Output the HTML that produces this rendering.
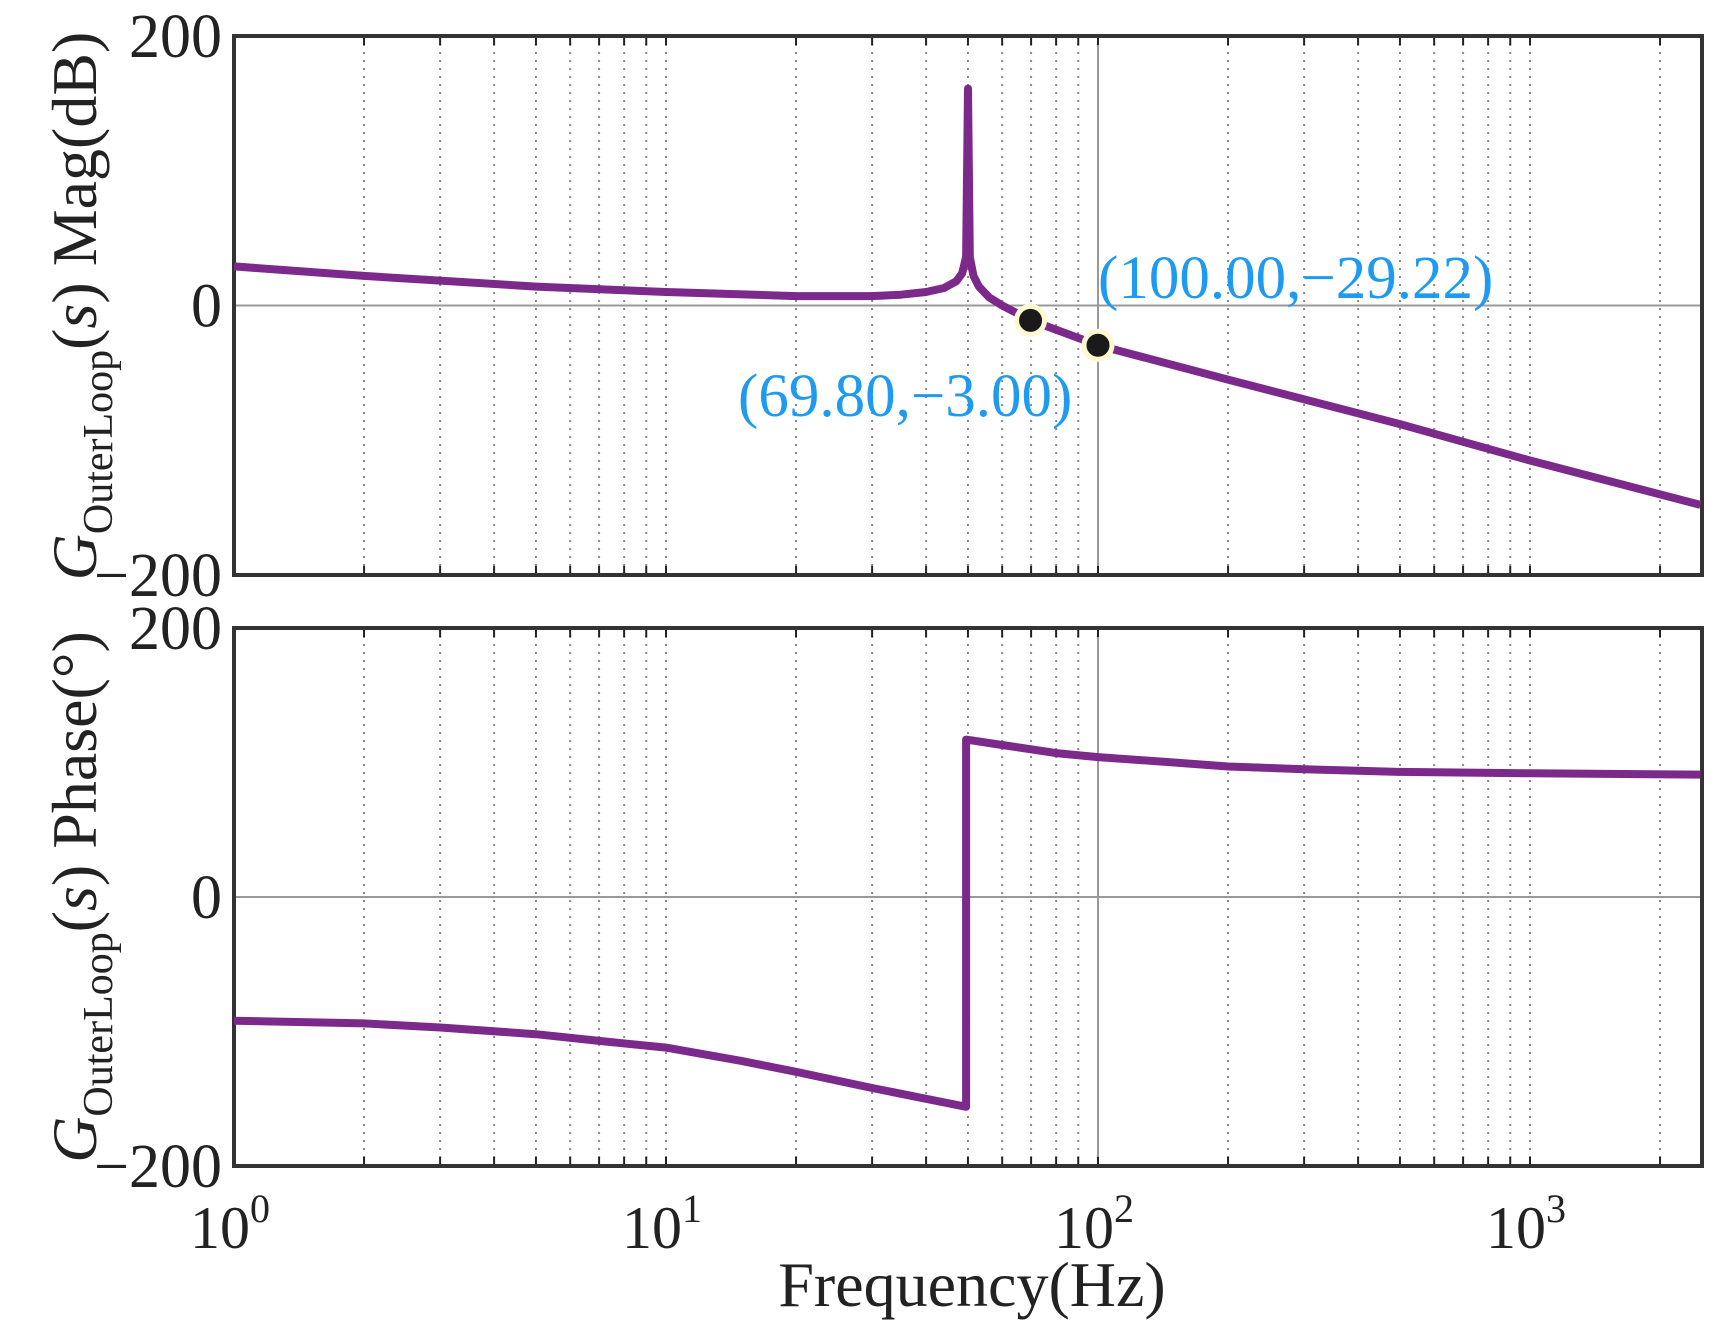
<!DOCTYPE html>
<html><head><meta charset="utf-8"><style>
html,body{margin:0;padding:0;background:#fff;}
svg{display:block;font-family:"Liberation Serif",serif;}
</style></head><body>
<svg id="chart" width="1724" height="1340" viewBox="0 0 1724 1340"></svg>
<script>
const magFreqs=[1,2,5,10,20,30,35,40,44,47,48.5,49.5,50,50.5,51.5,53,56,60,69.8,100,200,500,1000,2480];
const magValues=[29,22,14,10,7,7,8,10,13,18,24,36,161,36,22,14,6,0,-11,-29.5,-55,-88,-115,-148];
const phaseFreqs=[1,2,3,5,7,10,15,20,30,40,49.5,49.5,60,80,100,150,200,300,500,1000,2480];
const phaseValues=[-92,-94,-97,-102,-107,-112,-122,-130,-142,-150,-156,117,113,107,104,100,97,95,93,92,91];
const markerFreqs=[69.8,100];
const markerMags=[-11,-29.5];
const markerLabels=["(69.80,\u22123.00)","(100.00,\u221229.22)"];
const yTicks=[-200,0,200];
const xDecades=[0,1,2,3];

const NS="http://www.w3.org/2000/svg";
const svg=document.getElementById('chart');
const L=234,R=1702,DEC=432;
const P1={top:36,bot:575},P2={top:628,bot:1166};
const fmax=Math.pow(10,(R-L)/DEC);
function xS(f){return L+Math.log10(f)*DEC;}
function yS(p,v){return p.bot-(v+200)/400*(p.bot-p.top);}
function el(t,a,parent){const e=document.createElementNS(NS,t);for(const k in a)e.setAttribute(k,a[k]);(parent||svg).appendChild(e);return e;}

function panel(p,name){
  const g=el('g',{});
  
  
  for(let d=0;d<=3;d++){for(let m=1;m<=9;m++){const f=m*Math.pow(10,d);if(f>fmax)continue;const x=xS(f);
    if(m===1&&d===0)continue;
    if(m===1&&d===2){const ln=el('line',{x1:x,x2:x,y1:p.top,y2:p.bot,stroke:'#999','stroke-width':2},g);}
    else{const ln=el('line',{x1:x,x2:x,y1:p.top,y2:p.bot,stroke:'#888','stroke-width':2,'stroke-dasharray':'2 6'},g);}
    el('line',{x1:x,x2:x,y1:p.bot,y2:p.bot-9,stroke:'#222','stroke-width':2},g);
    el('line',{x1:x,x2:x,y1:p.top,y2:p.top+9,stroke:'#222','stroke-width':2},g);
  }}
  const z=el('line',{x1:L,x2:R,y1:yS(p,0),y2:yS(p,0),stroke:'#999','stroke-width':2},g);
  
  const b=el('rect',{x:L,y:p.top,width:R-L,height:p.bot-p.top,fill:'none',stroke:'#333','stroke-width':4},g);
  
  yTicks.forEach(v=>{const t=el('text',{x:222,y:yS(p,v)+21,'text-anchor':'end','font-size':62,fill:'#222'},g);t.textContent=v<0?'\u2212'+(-v):String(v);
    });
}
panel(P1,'magnitude');panel(P2,'phase');

function line(p,fs,vs,name){const d=fs.map((f,i)=>(i?'L':'M')+xS(f).toFixed(1)+','+yS(p,vs[i]).toFixed(1)).join(' ');
  const pa=el('path',{d:d,fill:'none',stroke:'#7B2A8B','stroke-width':8,'stroke-linejoin':'round'});
  }
line(P1,magFreqs,magValues,'magnitude-curve');
line(P2,phaseFreqs,phaseValues,'phase-curve');

markerFreqs.forEach((f,i)=>{const c=el('circle',{cx:xS(f),cy:yS(P1,markerMags[i]),r:14,fill:'#1a1a1a',stroke:'#FFF8D0','stroke-width':5});
  });
const lblPos=[[738,416],[1098,298]];
markerLabels.forEach((s,i)=>{const t=el('text',{x:lblPos[i][0],y:lblPos[i][1],'font-size':61,fill:'#1E9BF0'});t.textContent=s;
  });

xDecades.forEach(d=>{const x=xS(Math.pow(10,d));const t=el('text',{x:x-4,y:1248,'text-anchor':'middle','font-size':60,fill:'#222'});
  t.textContent='10';const s=el('tspan',{dy:-26,'font-size':40},t);s.textContent=String(d);
  });

const xt=el('text',{x:972,y:1306,'text-anchor':'middle','font-size':64,fill:'#222'});xt.textContent='Frequency(Hz)';


function ytitle(cy,suffix,name){const t=el('text',{transform:'translate(96,'+cy+') rotate(-90)','text-anchor':'middle','font-size':64,fill:'#222'});
  const a=el('tspan',{'font-style':'italic'},t);a.textContent='G';
  const b=el('tspan',{'font-size':42,dy:16},t);b.textContent='OuterLoop';
  const c=el('tspan',{dy:-16},t);c.textContent='(';
  const d=el('tspan',{'font-style':'italic'},t);d.textContent='s';
  const e=el('tspan',{},t);e.textContent=') '+suffix;
  }
ytitle(306,'Mag(dB)','magnitude-y-axis-title');
ytitle(897,'Phase(\u00B0)','phase-y-axis-title');
</script>
</body></html>
